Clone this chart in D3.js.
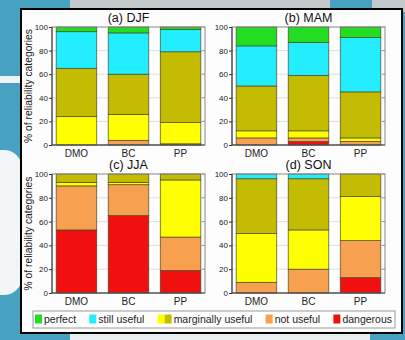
<!DOCTYPE html>
<html>
<head>
<meta charset="utf-8">
<script src="https://cdn.jsdelivr.net/npm/d3@7"></script>
<style>
  body { margin: 0; background: #4aa3c2; }
  svg { display: block; font-family: "Liberation Sans", Arial, sans-serif; }
</style>
</head>
<body>
<div id="chart"></div>
<script>
"use strict";

// data, stacked bottom to top (percent of reliability categories)
var seasons = ["(a) DJF", "(b) MAM", "(c) JJA", "(d) SON"];
var methods = ["DMO", "BC", "PP"];
var yTicks = [0, 20, 40, 60, 80, 100];

var dangerous    = [[0, 0, 0],   [0, 3, 0],    [53, 65, 19], [0, 0, 13]];
var notUseful    = [[0, 4, 1],   [6, 3, 3],    [37, 26, 28], [9, 20, 31]];
var marginalLow  = [[24, 22, 18],[6, 6, 3],    [3, 2, 48],   [41, 33, 37]];
var marginalHigh = [[41, 34, 60],[38, 47, 39], [7, 7, 5],    [46, 43, 19]];
var stillUseful  = [[31, 35, 19],[34, 28, 46], [0, 0, 0],    [4, 4, 0]];
var perfect      = [[4, 5, 2],   [16, 13, 9],  [0, 0, 0],    [0, 0, 0]];

var layerKeys = ["dangerous", "notUseful", "marginalLow", "marginalHigh", "stillUseful", "perfect"];
var layerData = [dangerous, notUseful, marginalLow, marginalHigh, stillUseful, perfect];
var colors = {
    dangerous: "#f01010",
    notUseful: "#f7a050",
    marginalLow: "#ffff00",
    marginalHigh: "#c4bc00",
    stillUseful: "#22eeff",
    perfect: "#22dd22"
};

var legendItems = [
    { label: "perfect", keys: ["perfect"] },
    { label: "still useful", keys: ["stillUseful"] },
    { label: "marginally useful", keys: ["marginalLow", "marginalHigh"] },
    { label: "not useful", keys: ["notUseful"] },
    { label: "dangerous", keys: ["dangerous"] }
];

var W = 405, H = 340;
var svg = d3.select("#chart").append("svg").attr("width", W).attr("height", H);

// photographed slide background
svg.append("rect").attr("width", W).attr("height", H).attr("fill", "#47a2c1");
svg.append("rect").attr("x", 70).attr("y", 0).attr("width", 260).attr("height", 12).attr("fill", "#c3c9cb");
svg.append("rect").attr("x", 372).attr("y", 0).attr("width", 33).attr("height", 12).attr("fill", "#c3c9cb");
svg.append("rect").attr("x", -10).attr("y", 76).attr("width", 32).attr("height", 7).attr("fill", "#eef4f6");
svg.append("rect").attr("x", -20).attr("y", 150).attr("width", 42).attr("height", 145).attr("rx", 18).attr("fill", "#f2f6f7");
svg.append("rect").attr("x", 70).attr("y", 330).attr("width", 300).attr("height", 10).attr("fill", "#e9eef0");

// figure box
svg.append("rect")
    .attr("x", 21).attr("y", 9)
    .attr("width", 381).attr("height", 324)
    .attr("fill", "#fdfdfd")
    .attr("stroke", "#000").attr("stroke-width", 2);

var panels = [
    { x0: 52, x1: 205, y0: 27, y1: 145 },
    { x0: 232, x1: 385, y0: 27, y1: 145 },
    { x0: 52, x1: 205, y0: 174, y1: 293 },
    { x0: 232, x1: 385, y0: 174, y1: 293 }
];

var stack = d3.stack().keys(layerKeys);

panels.forEach(function (p, i) {
    var rows = methods.map(function (m, j) {
        var row = { method: m };
        layerKeys.forEach(function (k, l) { row[k] = layerData[l][i][j]; });
        return row;
    });
    var series = stack(rows);

    var x = d3.scaleBand().domain(methods).range([p.x0, p.x1]).paddingInner(0.22).paddingOuter(0.08);
    var y = d3.scaleLinear().domain([0, 100]).range([p.y1, p.y0]);

    var g = svg.append("g");

    // gridlines
    g.selectAll(".grid").data(yTicks.slice(1, -1)).join("line")
        .attr("x1", p.x0).attr("x2", p.x1)
        .attr("y1", d => y(d)).attr("y2", d => y(d))
        .attr("stroke", "#d6d6d6").attr("stroke-width", 0.8);

    // bars
    g.selectAll(".layer").data(series).join("g")
        .attr("fill", d => colors[d.key])
        .selectAll("rect").data(d => d.filter(s => s[1] - s[0] > 0)).join("rect")
        .attr("x", d => x(d.data.method))
        .attr("width", x.bandwidth())
        .attr("y", d => y(d[1]))
        .attr("height", d => y(d[0]) - y(d[1]))
        .attr("stroke", "#4a4a2a").attr("stroke-width", 0.7);

    // frame
    g.append("rect")
        .attr("x", p.x0).attr("y", p.y0)
        .attr("width", p.x1 - p.x0).attr("height", p.y1 - p.y0)
        .attr("fill", "none").attr("stroke", "#888").attr("stroke-width", 1);
    g.append("line").attr("x1", p.x0).attr("x2", p.x0).attr("y1", p.y0).attr("y2", p.y1)
        .attr("stroke", "#333").attr("stroke-width", 1);
    g.append("line").attr("x1", p.x0).attr("x2", p.x1).attr("y1", p.y1).attr("y2", p.y1)
        .attr("stroke", "#333").attr("stroke-width", 1);

    // y axis
    var ya = g.append("g").attr("transform", "translate(" + p.x0 + ",0)")
        .call(d3.axisLeft(y).tickValues(yTicks).tickSize(3).tickPadding(1));
    ya.select(".domain").remove();
    ya.selectAll("text").attr("font-size", 8).attr("fill", "#222");
    ya.selectAll("line").attr("stroke", "#333");

    // right inner ticks
    g.selectAll(".rt").data(yTicks).join("line")
        .attr("x1", p.x1 - 3).attr("x2", p.x1)
        .attr("y1", d => y(d)).attr("y2", d => y(d))
        .attr("stroke", "#999");

    // x axis labels
    var xa = g.append("g").attr("transform", "translate(0," + p.y1 + ")")
        .call(d3.axisBottom(x).tickSize(0).tickPadding(5));
    xa.select(".domain").remove();
    xa.selectAll("text").attr("font-size", 10).attr("fill", "#222");

    // title
    g.append("text")
        .attr("x", (p.x0 + p.x1) / 2).attr("y", p.y0 - 5)
        .attr("text-anchor", "middle")
        .attr("font-size", 12.5).attr("fill", "#111")
        .text(seasons[i]);

    // y label on left panels
    if (i % 2 === 0) {
        g.append("text")
            .attr("transform", "translate(32," + ((p.y0 + p.y1) / 2) + ") rotate(-90)")
            .attr("text-anchor", "middle")
            .attr("font-size", 10.3).attr("fill", "#222")
            .text("% of reliability categories");
    }
});

// legend
var legend = svg.append("g");
var lbX = 33, lbW = 362, sw = 7;
legend.append("rect")
    .attr("x", lbX).attr("y", 311).attr("width", lbW).attr("height", 17)
    .attr("fill", "#fff").attr("stroke", "#999").attr("stroke-width", 1);

var texts = legendItems.map(function (item) {
    return legend.append("text")
        .attr("y", 323)
        .attr("font-size", 10.5).attr("fill", "#222")
        .text(item.label);
});
var widths = legendItems.map(function (item, i) {
    return item.keys.length * sw + 2 + texts[i].node().getComputedTextLength();
});
var gap = (lbW - 5 - d3.sum(widths)) / (legendItems.length - 1);

var lx = lbX + 2;
legendItems.forEach(function (item, i) {
    item.keys.forEach(function (k) {
        legend.append("rect")
            .attr("x", lx).attr("y", 314.5).attr("width", sw).attr("height", 9)
            .attr("fill", colors[k]);
        lx += sw;
    });
    texts[i].attr("x", lx + 2);
    lx += widths[i] - item.keys.length * sw + gap;
});
</script>
</body>
</html>
